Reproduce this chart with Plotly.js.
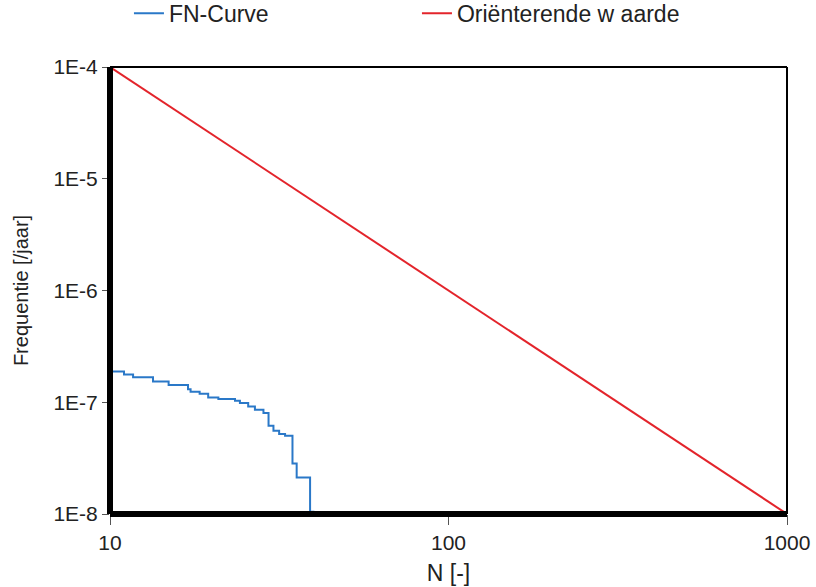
<!DOCTYPE html>
<html>
<head>
<meta charset="utf-8">
<script src="https://cdn.plot.ly/plotly-3.0.1.min.js"></script>
<style>
  html, body { margin: 0; padding: 0; background: #fff; }
  #chart { width: 816px; height: 587px; }
</style>
</head>
<body>
<div id="chart"></div>
<script>
// FN-Curve (step curve)
const fnN    = [10, 11, 11.7, 13.4, 14.9, 17.0, 17.3, 18.4, 19.5, 20.9, 23.4, 24.2, 25.6, 26.8, 28.4, 29.4, 30.4, 31.6, 32.9, 34.6, 35.6, 39.0, 39.9];
const fnFreq = [1.88e-7, 1.77e-7, 1.67e-7, 1.53e-7, 1.43e-7, 1.31e-7, 1.24e-7, 1.19e-7, 1.10e-7, 1.07e-7, 1.03e-7, 9.84e-8, 9.17e-8, 8.57e-8, 8.0e-8, 6.15e-8, 5.55e-8, 5.19e-8, 5.01e-8, 2.83e-8, 2.12e-8, 1.05e-8, 9.5e-9];

// Oriënterende waarde (guide line)
const owN    = [10, 1000];
const owFreq = [1e-4, 1e-8];

// Tick labels
const xTickVals = [10, 100, 1000];
const xTickText = ['10', '100', '1000'];
const yTickVals = [1e-4, 1e-5, 1e-6, 1e-7, 1e-8];
const yTickText = ['1E-4', '1E-5', '1E-6', '1E-7', '1E-8'];

const seriesNames = ['FN-Curve', 'Oriënterende w aarde'];

const FONT = 'Liberation Sans, Arial, sans-serif';

const traces = [
  {
    x: fnN, y: fnFreq, name: seriesNames[0], type: 'scatter', mode: 'lines',
    line: { color: '#2a78c8', width: 2, shape: 'hv' }
  },
  {
    x: owN, y: owFreq, name: seriesNames[1], type: 'scatter', mode: 'lines',
    line: { color: '#e3242b', width: 2 }
  }
];

const layout = {
  width: 816, height: 587,
  margin: { l: 110, r: 29, t: 67, b: 73, autoexpand: false },
  paper_bgcolor: '#fff', plot_bgcolor: '#fff',
  font: { family: FONT, size: 21, color: '#222' },
  showlegend: true,
  legend: {
    orientation: 'h', x: 0.028, xanchor: 'left', y: 1.12, yanchor: 'middle',
    font: { family: FONT, size: 23, color: '#222' },
    entrywidth: 243, entrywidthmode: 'pixels',
    bgcolor: 'rgba(0,0,0,0)'
  },
  xaxis: {
    type: 'log', range: [1, 3],
    tickvals: xTickVals, ticktext: xTickText,
    ticks: 'outside', ticklen: 10, tickwidth: 1, tickcolor: '#555',
    showgrid: false, zeroline: false, showline: false,
    tickfont: { family: FONT, size: 21, color: '#222' },
    title: { text: 'N [-]', font: { family: FONT, size: 23, color: '#222' }, standoff: 11 }
  },
  yaxis: {
    type: 'log', range: [-8, -4],
    tickvals: yTickVals, ticktext: yTickText,
    ticks: 'outside', ticklen: 7, tickwidth: 1, tickcolor: '#555',
    showgrid: false, zeroline: false, showline: false,
    tickfont: { family: FONT, size: 21, color: '#222' },
    title: { text: 'Frequentie [/jaar]', font: { family: FONT, size: 20, color: '#222' }, standoff: 19 }
  },
  shapes: [
    { type: 'line', xref: 'paper', yref: 'paper', x0: 0, x1: 1, y0: 1, y1: 1, line: { color: '#000', width: 2 }, layer: 'above' },
    { type: 'line', xref: 'paper', yref: 'paper', x0: 1, x1: 1, y0: 0, y1: 1, line: { color: '#000', width: 2 }, layer: 'above' },
    { type: 'line', xref: 'paper', yref: 'paper', x0: 0, x1: 0, y0: 0, y1: 1, line: { color: '#000', width: 6 }, layer: 'above' },
    { type: 'line', xref: 'paper', yref: 'paper', x0: 0, x1: 1, y0: 0, y1: 0, line: { color: '#000', width: 6 }, layer: 'above' }
  ]
};

Plotly.newPlot('chart', traces, layout, { displayModeBar: false, staticPlot: true });
</script>
</body>
</html>
